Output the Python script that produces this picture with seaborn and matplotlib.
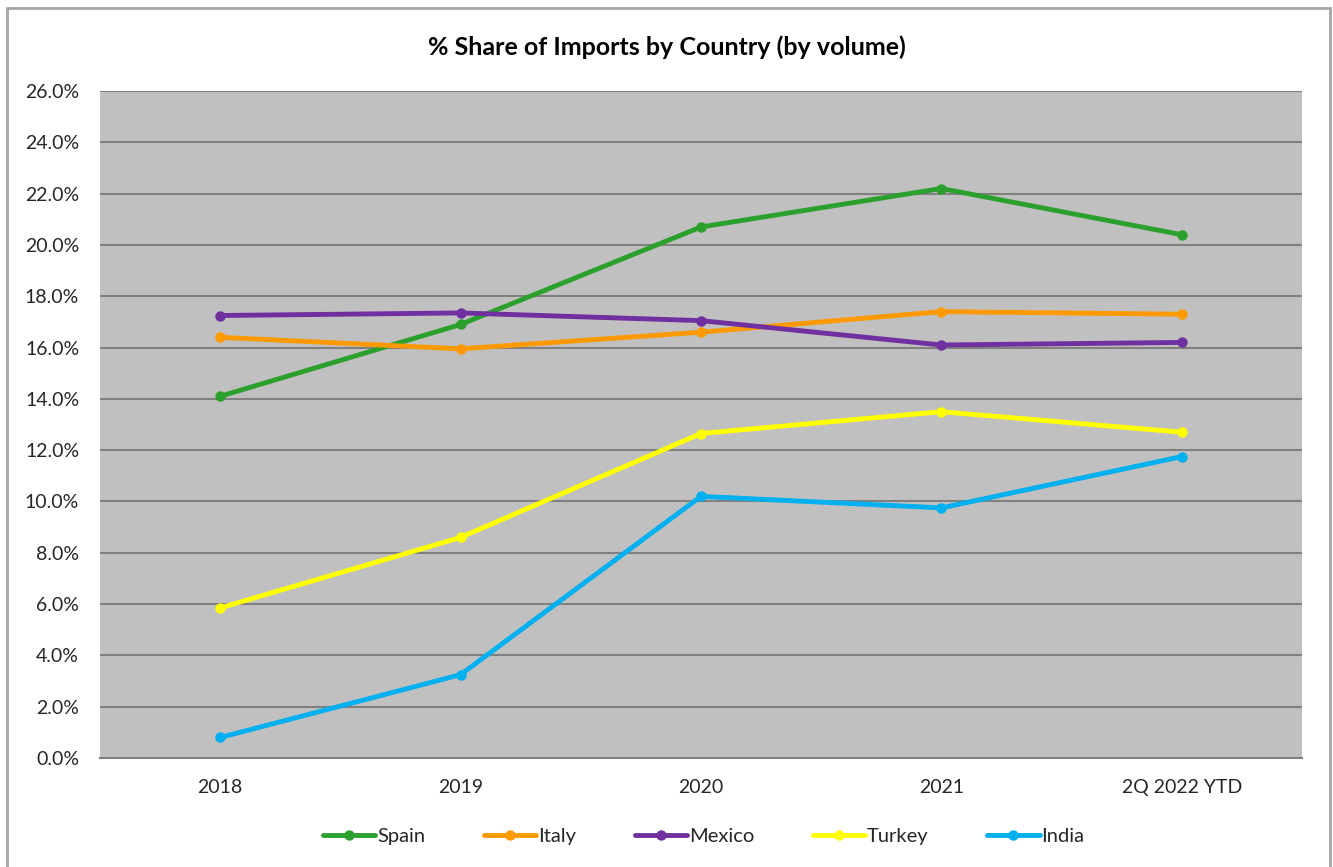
import matplotlib
matplotlib.use('Agg')
import matplotlib.pyplot as plt
from matplotlib.patches import Rectangle
from matplotlib.ticker import PercentFormatter
import seaborn as sns
import pandas as pd

years = ['2018', '2019', '2020', '2021', '2Q 2022 YTD']
spain = [14.1, 16.9, 20.7, 22.2, 20.4]
italy = [16.4, 15.95, 16.6, 17.4, 17.3]
mexico = [17.25, 17.35, 17.05, 16.1, 16.2]
turkey = [5.85, 8.6, 12.65, 13.5, 12.7]
india = [0.8, 3.25, 10.2, 9.75, 11.75]

countries = ['Spain', 'Italy', 'Mexico', 'Turkey', 'India']
colors = ['#2CA02C', '#FF9900', '#7030A0', '#FFFF00', '#00B0F0']

rows = []
for name, vals in zip(countries, [spain, italy, mexico, turkey, india]):
    for y, v in zip(years, vals):
        rows.append({'Year': y, 'Share': v, 'Country': name})
df = pd.DataFrame(rows)

sns.set_style('white')
plt.rcParams['font.family'] = ['Lato', 'DejaVu Sans']

fig = plt.figure(figsize=(13.33, 8.67), dpi=100)
ax = fig.add_axes([0.075, 0.1257, 0.9017, 0.7693])
ax.set_facecolor('#C0C0C0')

sns.lineplot(data=df, x='Year', y='Share', hue='Country', hue_order=countries,
             palette=colors, marker='o', markersize=7.5, markeredgewidth=0,
             linewidth=3.5, sort=False, ax=ax)

ax.set_ylim(0, 26)
ax.set_yticks(range(0, 27, 2))
ax.yaxis.set_major_formatter(PercentFormatter(decimals=1))
ax.set_xlim(-0.5, 4.5)
ax.grid(axis='y', color='#808080', linewidth=1.5)
ax.set_axisbelow(True)
for side in ['left', 'right', 'top']:
    ax.spines[side].set_visible(False)
ax.spines['bottom'].set_color('#808080')
ax.spines['bottom'].set_linewidth(1.5)
ax.tick_params(axis='both', length=0, labelsize=14, colors='#262626')
ax.tick_params(axis='y', pad=15)
ax.tick_params(axis='x', pad=15)
ax.set_xlabel('')
ax.set_ylabel('')

fig.text(0.5, 0.945, '% Share of Imports by Country (by volume)', ha='center', va='center',
         fontsize=18, fontweight='bold', color='black')

ax.legend(loc='center', bbox_to_anchor=(0.528, 0.035), bbox_transform=fig.transFigure,
          ncol=5, frameon=False, fontsize=14.5, handlelength=2.6, handletextpad=0.1,
          columnspacing=2.9, labelcolor='#262626')

fig.patches.append(Rectangle((7 / 1333, -0.05), 1323 / 1333, 1 - 8 / 867 + 0.05,
                             transform=fig.transFigure, fill=False,
                             edgecolor='#A6A6A6', linewidth=2))

fig.savefig('out.png', dpi=100)
